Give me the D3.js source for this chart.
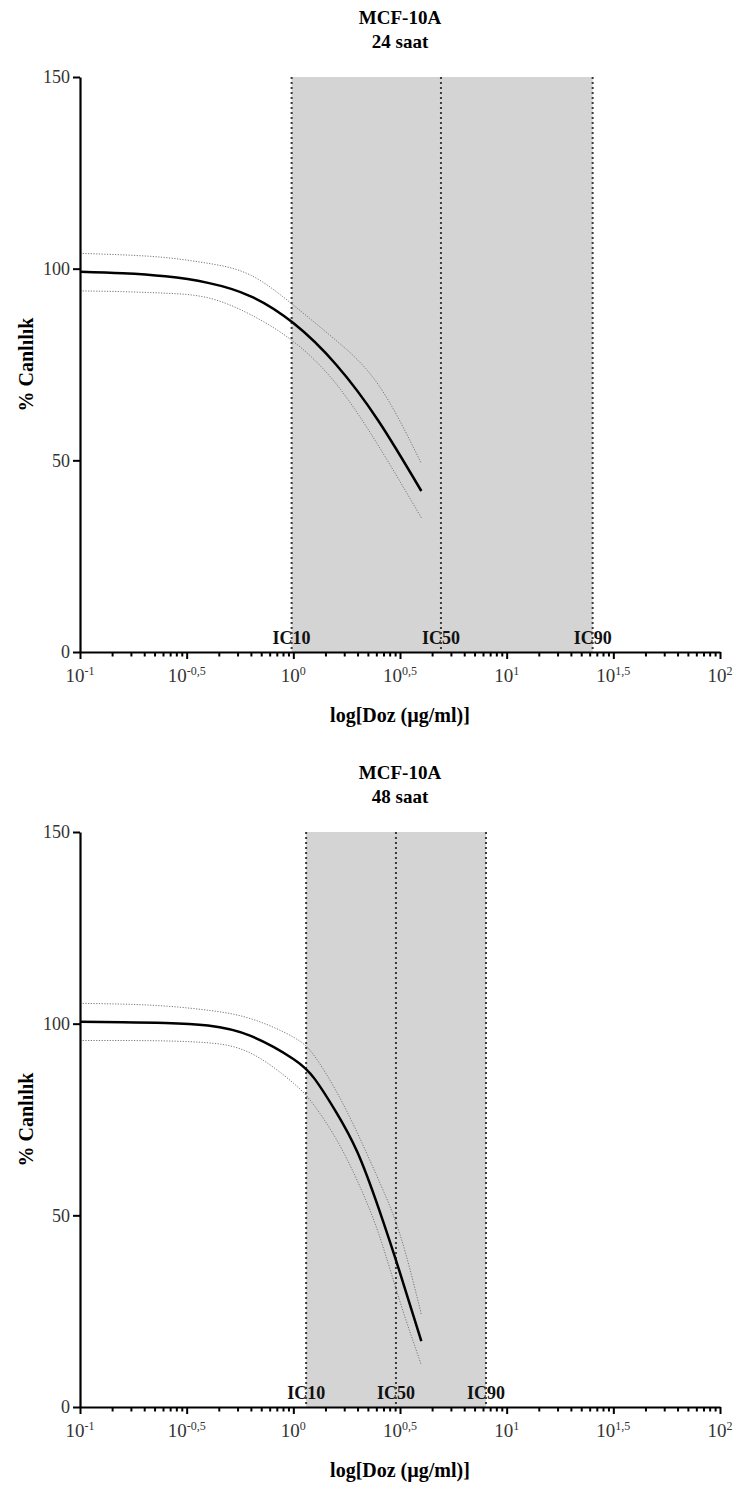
<!DOCTYPE html>
<html><head><meta charset="utf-8">
<script src="https://cdn.jsdelivr.net/npm/d3@7"></script>
<style>
body{margin:0;background:#fff}
text{font-family:"Liberation Serif","Times New Roman",serif}
</style>
</head><body>
<svg id="c" width="737" height="1485"></svg>
<script>
// ---- data (log10 of dose in µg/ml, % viability) ----
const logDose24 = [-1, -0.8, -0.6, -0.4, -0.2, 0, 0.2, 0.4, 0.6];
const fit24     = [99.2, 98.8, 98.0, 96.3, 92.8, 85.8, 75.0, 60.2, 42.0];
const upper24   = [104.0, 103.6, 102.9, 101.4, 98.3, 90.5, 81.3, 69.6, 49.2];
const lower24   = [94.2, 94.0, 93.6, 92.4, 88.0, 81.0, 70.0, 53.7, 35.0];
const icLog24   = [-0.008, 0.692, 1.403];

const logDose48 = [-1, -0.8, -0.6, -0.4, -0.2, 0, 0.1, 0.2, 0.3, 0.4, 0.5, 0.6];
const fit48     = [100.5, 100.4, 100.2, 99.5, 96.8, 90.8, 85.6, 77.0, 66.5, 51.8, 35.0, 17.2];
const upper48   = [105.3, 105.1, 104.6, 103.5, 101.3, 96.5, 91.5, 82.5, 71.5, 59.2, 45.0, 24.2];
const lower48   = [95.6, 95.6, 95.5, 95.0, 92.3, 84.5, 78.5, 70.0, 59.0, 45.2, 27.5, 11.0];
const icLog48   = [0.06, 0.481, 0.903];

const icNames = ["IC10", "IC50", "IC90"];
const xMajorExp = [-1, -0.5, 0, 0.5, 1, 1.5, 2];
const xMajorLabel = ["-1", "-0,5", "0", "0,5", "1", "1,5", "2"];
const yTicks = [0, 50, 100, 150];
const titles = [["MCF-10A", "24 saat"], ["MCF-10A", "48 saat"]];
const yTitle = "% Canlılık";
const xTitle = "log[Doz (µg/ml)]";

const svg = d3.select("#c");
const x = d3.scaleLog().domain([0.1, 100]).range([80, 720]);
const y = d3.scaleLinear().domain([0, 150]).range([652, 77]);

const majorVals = xMajorExp.map(e => Math.pow(10, e));
const minorVals = [];
xMajorExp.slice(0, -1).forEach(s => {
  for (let k = 2; k <= 9; k++) minorVals.push(Math.pow(10, s + Math.log10(k) / 2));
});

function draw(offset, title, logDose, fit, upper, lower, icLog) {
  const g = svg.append("g").attr("transform", `translate(0,${offset})`);
  const ic = icLog.map(v => Math.pow(10, v));

  // shaded IC10-IC90 region
  g.append("rect")
    .attr("x", x(ic[0])).attr("y", y(150))
    .attr("width", x(ic[2]) - x(ic[0])).attr("height", y(0) - y(150))
    .attr("fill", "#d4d4d4");

  // titles
  g.append("text").attr("x", 400).attr("y", 24).attr("text-anchor", "middle")
    .attr("font-weight", "bold").attr("font-size", 19).text(title[0]);
  g.append("text").attr("x", 400).attr("y", 48).attr("text-anchor", "middle")
    .attr("font-weight", "bold").attr("font-size", 19).text(title[1]);

  // IC labels
  g.selectAll(".icl").data(ic).enter().append("text")
    .attr("x", d => x(d)).attr("y", 644).attr("text-anchor", "middle")
    .attr("font-weight", "bold").attr("font-size", 18).attr("fill", "#111")
    .text((d, i) => icNames[i]);

  // IC dotted lines
  g.selectAll(".icline").data(ic).enter().append("line")
    .attr("x1", d => x(d)).attr("x2", d => x(d))
    .attr("y1", y(150)).attr("y2", y(0))
    .attr("stroke", "#3a3a3a").attr("stroke-width", 2)
    .attr("stroke-dasharray", "2,3");

  const pts = (vals) => logDose.map((l, i) => [Math.pow(10, l), vals[i]]);
  const line = d3.line().x(d => x(d[0])).y(d => y(d[1])).curve(d3.curveNatural);

  [upper, lower].forEach(v => {
    g.append("path").attr("d", line(pts(v))).attr("fill", "none")
      .attr("stroke", "#777").attr("stroke-width", 1)
      .attr("stroke-dasharray", "1.2,1.5");
  });
  g.append("path").attr("d", line(pts(fit))).attr("fill", "none")
    .attr("stroke", "#000").attr("stroke-width", 2.5);

  // y axis
  const ya = g.append("g").attr("transform", "translate(80,0)")
    .call(d3.axisLeft(y).tickValues(yTicks).tickSize(7).tickSizeOuter(0).tickPadding(3));
  ya.select(".domain").attr("stroke", "#000").attr("stroke-width", 2.2);
  ya.selectAll(".tick line").attr("stroke", "#000").attr("stroke-width", 2);
  ya.selectAll(".tick text").attr("font-size", 18).attr("fill", "#333")
    .attr("font-family", "Liberation Serif");

  // x axis
  const xa = g.append("g").attr("transform", `translate(0,${y(0)})`)
    .call(d3.axisBottom(x).tickValues(majorVals).tickSize(7).tickSizeOuter(0).tickFormat(""));
  xa.select(".domain").attr("stroke", "#000").attr("stroke-width", 2.2);
  xa.selectAll(".tick line").attr("stroke", "#000").attr("stroke-width", 2);
  const xm = g.append("g").attr("transform", `translate(0,${y(0)})`)
    .call(d3.axisBottom(x).tickValues(minorVals).tickSize(4.5).tickSizeOuter(0).tickFormat(""));
  xm.select(".domain").remove();
  xm.selectAll(".tick line").attr("stroke", "#000").attr("stroke-width", 2);

  // x tick labels
  const lab = g.selectAll(".xl").data(majorVals).enter().append("text")
    .attr("x", d => x(d)).attr("y", 682).attr("text-anchor", "middle")
    .attr("fill", "#333").attr("font-size", 19);
  lab.append("tspan").text("10");
  lab.append("tspan").attr("font-size", 12).attr("dy", -7).text((d, i) => xMajorLabel[i]);

  // axis titles
  g.append("text").attr("x", 400).attr("y", 722).attr("text-anchor", "middle")
    .attr("font-weight", "bold").attr("font-size", 20).text(xTitle);
  g.append("text").attr("transform", `translate(33,${(y(0) + y(150)) / 2}) rotate(-90)`)
    .attr("text-anchor", "middle").attr("font-weight", "bold").attr("font-size", 20)
    .text(yTitle);
}

draw(0, titles[0], logDose24, fit24, upper24, lower24, icLog24);
draw(755, titles[1], logDose48, fit48, upper48, lower48, icLog48);
</script>
</body></html>
